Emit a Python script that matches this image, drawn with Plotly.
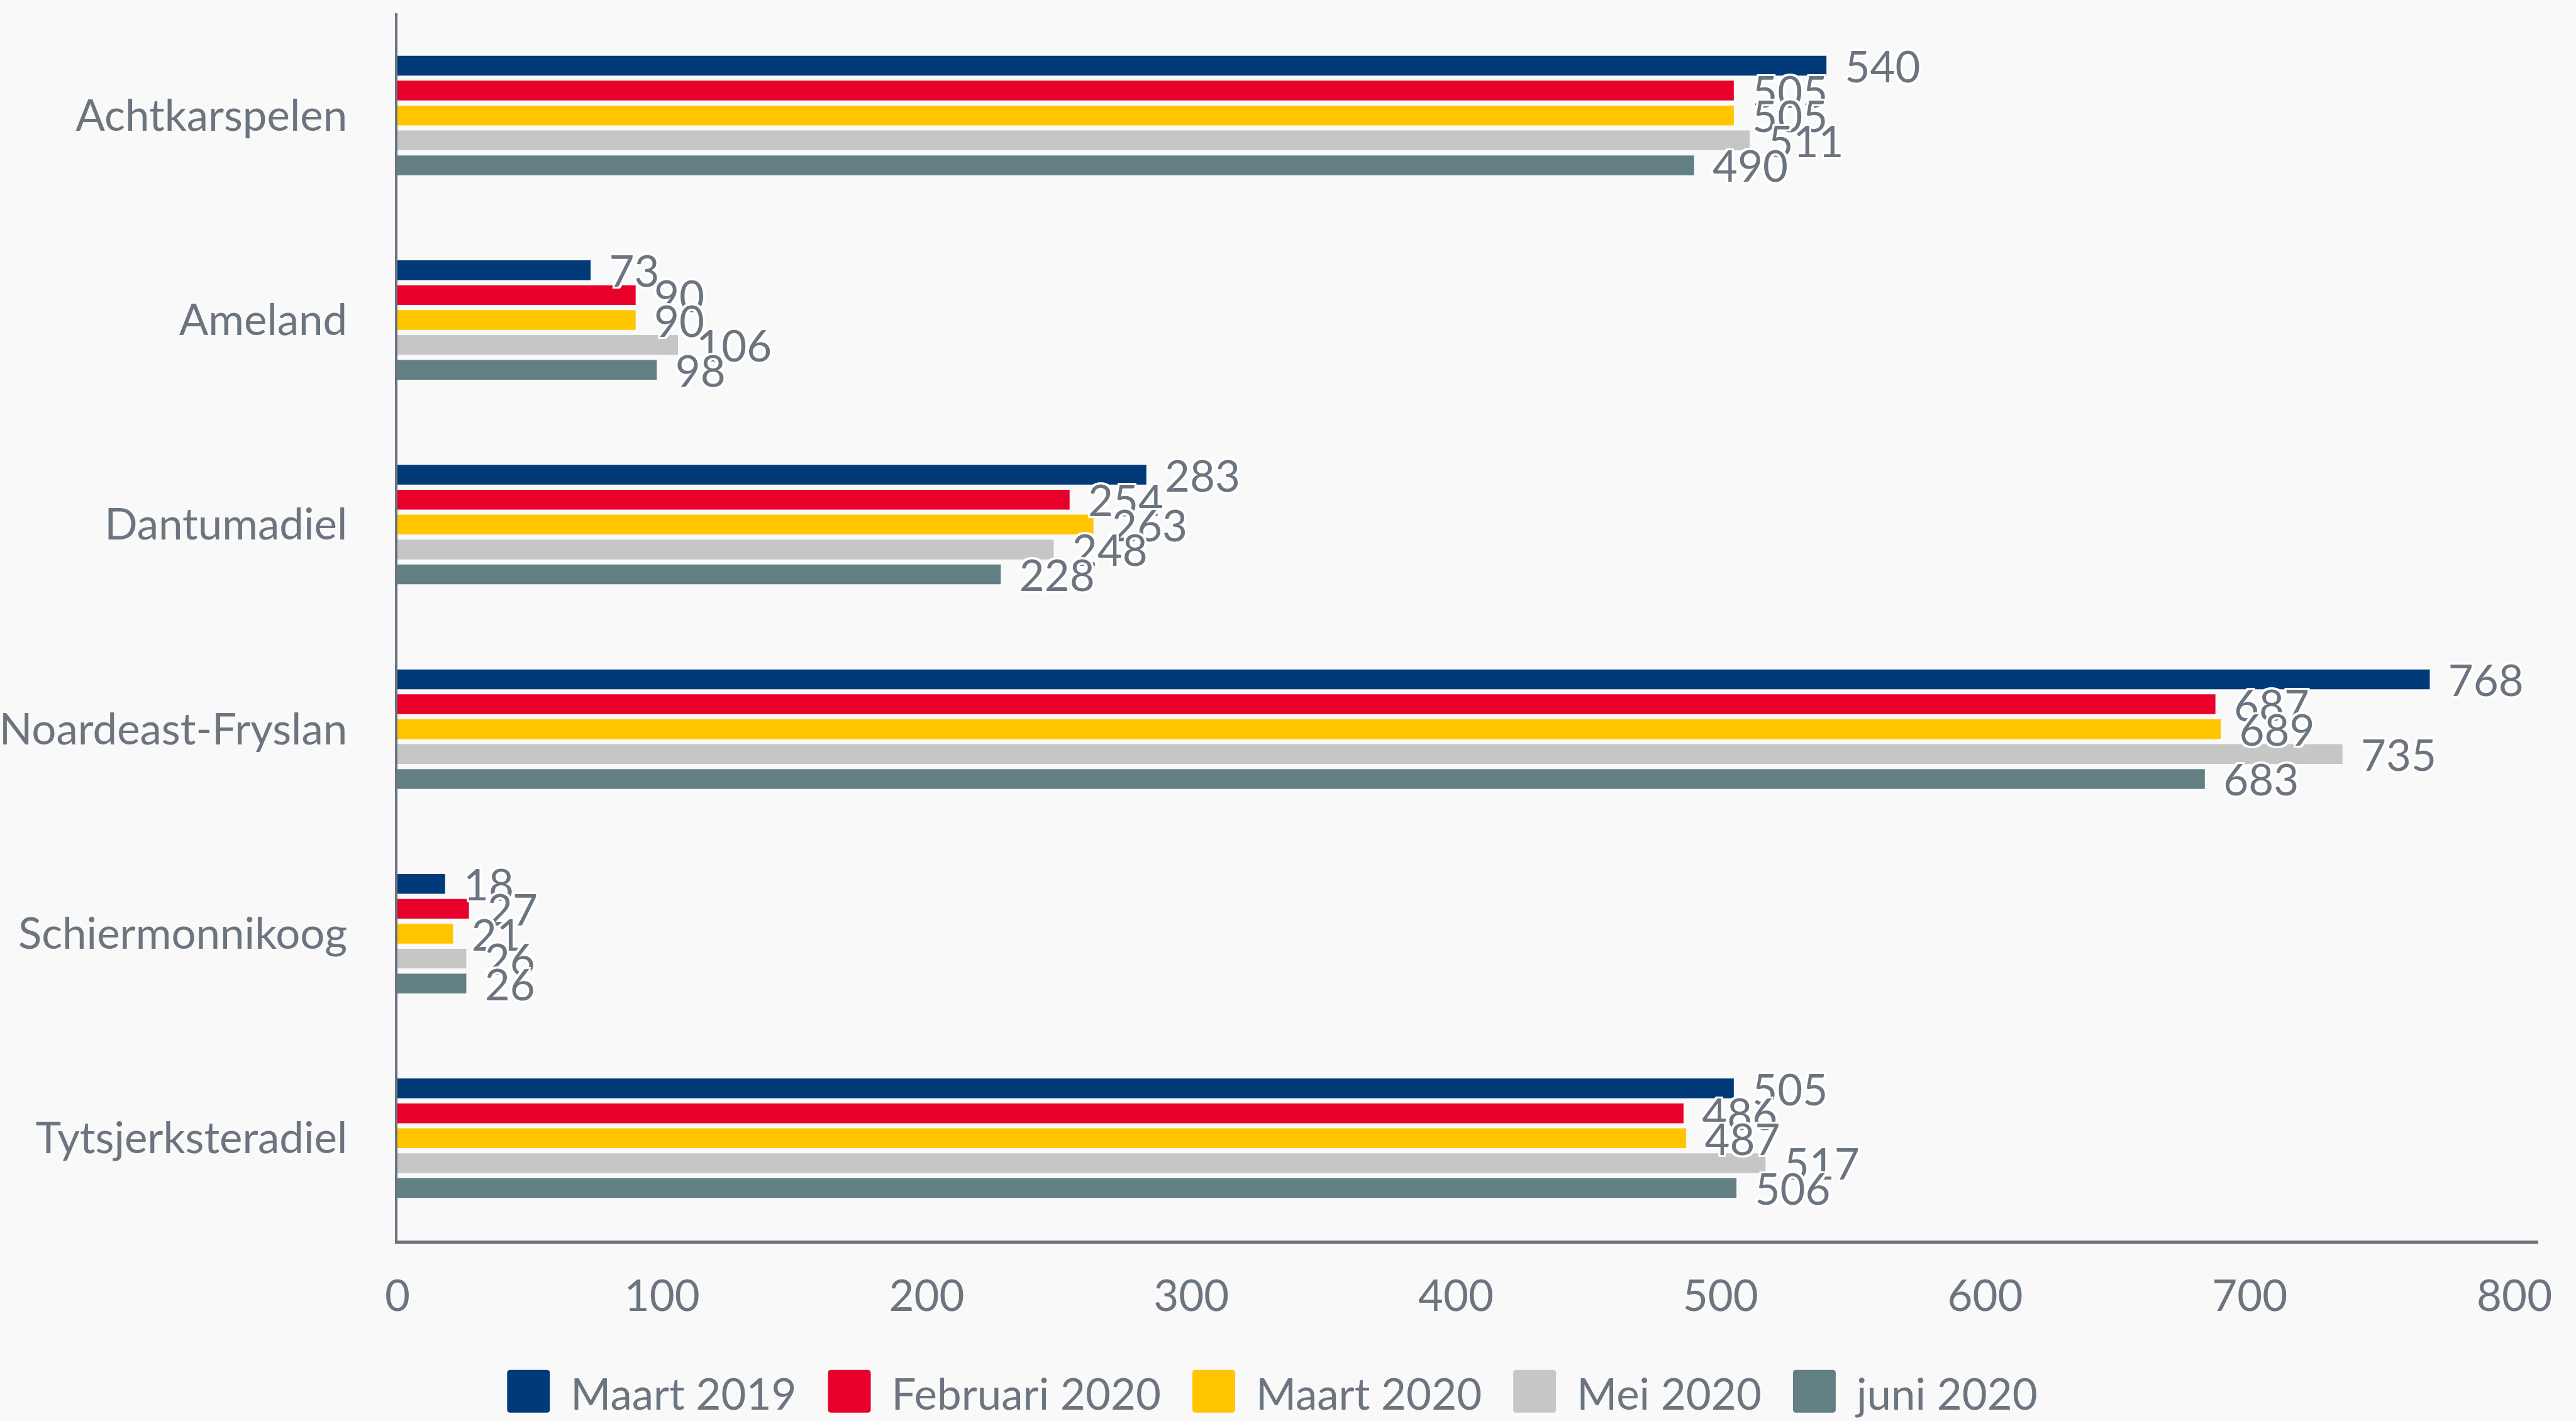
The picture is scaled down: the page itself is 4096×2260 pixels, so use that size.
import plotly.graph_objects as go

categories = ["Achtkarspelen", "Ameland", "Dantumadiel", "Noardeast-Fryslan",
              "Schiermonnikoog", "Tytsjerksteradiel"]
series_names = ["Maart 2019", "Februari 2020", "Maart 2020", "Mei 2020", "juni 2020"]
maart_2019 = [540, 73, 283, 768, 18, 505]
februari_2020 = [505, 90, 254, 687, 27, 486]
maart_2020 = [505, 90, 263, 689, 21, 487]
mei_2020 = [511, 106, 248, 735, 26, 517]
juni_2020 = [490, 98, 228, 683, 26, 506]
series_values = [maart_2019, februari_2020, maart_2020, mei_2020, juni_2020]
colors = ["#003a78", "#e8002a", "#ffc600", "#c6c6c6", "#628084"]
x_ticks = [0, 100, 200, 300, 400, 500, 600, 700, 800]

TEXT = "#6c757f"
FONT = "Lato"
FS = 69
BG = "#f9f9f9"

W = "#ffffff"
o = 3
shadow = ", ".join(f"{dx}px {dy}px 0 {W}" for dx, dy in
                   [(-o, -o), (o, -o), (-o, o), (o, o), (0, o), (o, 0), (0, -o), (-o, 0),
                    (-2, -3), (2, -3), (-2, 3), (2, 3), (-3, -2), (3, -2), (-3, 2), (3, 2)])

fig = go.Figure()
for i, (name, vals, col) in enumerate(zip(series_names, series_values, colors)):
    fig.add_trace(go.Bar(
        y=categories, x=vals, name=name, orientation="h",
        marker=dict(color=col, line=dict(width=0)),
        offsetgroup=f"s{i}", hoverinfo="skip",
    ))
# text layers drawn above all bars
for i, (name, vals) in enumerate(zip(series_names, series_values)):
    fig.add_trace(go.Bar(
        y=categories, x=vals, name=name, orientation="h",
        marker=dict(color="rgba(0,0,0,0)", line=dict(width=0)),
        offsetgroup=f"s{i}", showlegend=False, hoverinfo="skip",
        texttemplate="\u00a0\u2009%{x}", textposition="outside",
        textangle=0, constraintext="none", cliponaxis=False,
        textfont=dict(family=FONT, size=FS, color=TEXT, shadow=shadow),
    ))

fig.update_layout(
    width=4096, height=2260,
    margin=dict(l=632, r=60, t=21, b=287, autoexpand=False),
    paper_bgcolor=BG, plot_bgcolor=BG,
    barmode="group", bargap=0.391, bargroupgap=0.207,
    font=dict(family=FONT, size=FS, color=TEXT),
    showlegend=True,
    legend=dict(orientation="h", x=0.038, xanchor="left", y=-0.124, yanchor="middle",
                font=dict(family=FONT, size=FS, color=TEXT), itemwidth=136,
                bgcolor="rgba(0,0,0,0)", traceorder="normal",
                itemclick=False, itemdoubleclick=False),
    xaxis=dict(range=[0, 809], tickvals=x_ticks, showgrid=False, zeroline=False,
               showline=True, linecolor=TEXT, linewidth=5, ticks="",
               ticklabelstandoff=24, tickfont=dict(family=FONT, size=FS, color=TEXT)),
    yaxis=dict(autorange="reversed", showgrid=False, zeroline=False,
               showline=True, linecolor=TEXT, linewidth=4, ticks="",
               ticklabelstandoff=62, tickfont=dict(family=FONT, size=FS, color=TEXT)),
)

post = r"""
(function(){
  document.body.style.margin = '0';
  document.body.style.padding = '0';
  document.body.style.background = '#f9f9f9';
  var gd = document.getElementById('{plot_id}');
  function fix(){
    var svg = gd.querySelector('svg.main-svg');
    gd.querySelectorAll('g.legend g.traces').forEach(function(tr){
      var txt = tr.querySelector('text.legendtext');
      var path = tr.querySelector('g.legendpoints path');
      if(!txt || !path) return;
      var pt = svg.createSVGPoint();
      pt.x = parseFloat(txt.getAttribute('x')||0);
      pt.y = parseFloat(txt.getAttribute('y')||0);
      var sp = pt.matrixTransform(txt.getScreenCTM());
      var inv = path.getScreenCTM().inverse();
      var right = sp.x - 33, left = right - 68, bottom = sp.y + 5, top = bottom - 68;
      var a = svg.createSVGPoint(); a.x = left; a.y = top; a = a.matrixTransform(inv);
      var b = svg.createSVGPoint(); b.x = right; b.y = bottom; b = b.matrixTransform(inv);
      var x0=a.x, y0=a.y, x1=b.x, y1=b.y, r=5;
      var d = 'M'+(x0+r)+','+y0+'H'+(x1-r)+'Q'+x1+','+y0+' '+x1+','+(y0+r)+
              'V'+(y1-r)+'Q'+x1+','+y1+' '+(x1-r)+','+y1+'H'+(x0+r)+
              'Q'+x0+','+y1+' '+x0+','+(y1-r)+'V'+(y0+r)+'Q'+x0+','+y0+' '+(x0+r)+','+y0+'Z';
      path.setAttribute('d', d);
      path.style.strokeWidth = '0px';
    });
  }
  fix();
  gd.on('plotly_afterplot', fix);
})();
"""

fig.write_html("out.html", post_script=post, config={"displayModeBar": False})
